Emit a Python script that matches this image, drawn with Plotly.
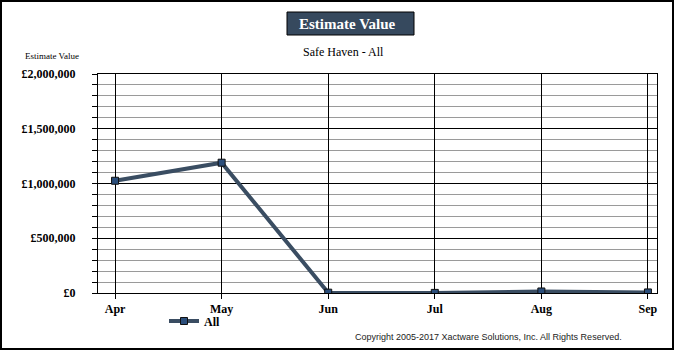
import plotly.graph_objects as go

months = ["Apr", "May", "Jun", "Jul", "Aug", "Sep"]
values = [1025000, 1190000, 3000, 1000, 14000, 5000]
y_ticks = [0, 500000, 1000000, 1500000, 2000000]
y_tick_text = ["£0", "£500,000", "£1,000,000", "£1,500,000", "£2,000,000"]

SERIF = "Liberation Serif, Times New Roman, serif"
SANS = "Liberation Sans, Arial, sans-serif"
LINE_COLOR = "#3a4d62"

fig = go.Figure()
fig.add_trace(go.Scatter(
    x=list(range(len(months))), y=values, name="All",
    mode="lines+markers",
    line=dict(color=LINE_COLOR, width=4),
    marker=dict(symbol="square", size=7, color="#2b4e7b",
                line=dict(color="#111111", width=1)),
))

fig.update_layout(
    width=674, height=350,
    margin=dict(l=98, r=17, t=74, b=57),
    paper_bgcolor="white", plot_bgcolor="white",
    showlegend=True,
    legend=dict(orientation="h", x=164, xref="paper", y=0, yanchor="middle",
                font=dict(family=SERIF, size=12, color="black", weight="bold"),
                itemwidth=30, bgcolor="rgba(0,0,0,0)"),
    xaxis=dict(
        range=[-0.16, 5.085], tickmode="array",
        tickvals=list(range(len(months))), ticktext=months,
        showgrid=True, gridcolor="black", gridwidth=1,
        ticks="outside", ticklen=5, tickcolor="black",
        showline=True, linecolor="black", linewidth=1, mirror=True,
        zeroline=False,
        tickfont=dict(family=SERIF, size=12, color="black", weight="bold"),
    ),
    yaxis=dict(
        range=[0, 2000000], tickmode="array",
        tickvals=y_ticks, ticktext=y_tick_text,
        showgrid=True, gridcolor="black", gridwidth=1,
        ticks="outside", ticklen=5, tickcolor="black",
        showline=True, linecolor="black", linewidth=1, mirror=True,
        zeroline=False, ticklabelstandoff=14,
        tickfont=dict(family=SERIF, size=12, color="black", weight="bold"),
        minor=dict(dtick=100000, showgrid=True, gridcolor="#9a9a9a",
                   gridwidth=1, ticks="outside", ticklen=5,
                   tickcolor="black"),
    ),
)

# Legend position in pixels -> paper fraction
fig.update_layout(legend=dict(x=(164 - 98) / 559, y=-(321 - 293) / 219))

# Title box
fig.add_shape(type="rect", xref="paper", yref="paper",
              x0=(287 - 98) / 559, x1=(414 - 98) / 559,
              y0=(293 - 35) / 219, y1=(293 - 12) / 219,
              fillcolor="#36495e", line=dict(color="black", width=1))
fig.add_annotation(text="Estimate Value", xref="paper", yref="paper",
                   x=(297 - 98) / 559, y=(293 - 23.5) / 219,
                   xanchor="left", yanchor="middle", showarrow=False,
                   font=dict(family=SERIF, size=15, color="white", weight="bold"))

# Subtitle
fig.add_annotation(text="Safe Haven - All", xref="paper", yref="paper",
                   x=(343 - 98) / 559, y=(293 - 52) / 219,
                   xanchor="center", yanchor="middle", showarrow=False,
                   font=dict(family=SERIF, size=12, color="black"))

# Axis caption
fig.add_annotation(text="Estimate Value", xref="paper", yref="paper",
                   x=(52 - 98) / 559, y=(293 - 56) / 219,
                   xanchor="center", yanchor="middle", showarrow=False,
                   font=dict(family=SERIF, size=9, color="black"))

# Copyright
fig.add_annotation(text="Copyright 2005-2017 Xactware Solutions, Inc. All Rights Reserved.",
                   xref="paper", yref="paper",
                   x=(624 - 98) / 559, y=-(337 - 293) / 219,
                   xanchor="right", yanchor="middle", showarrow=False,
                   font=dict(family=SANS, size=9, color="#222222"))

# Outer frame
fig.add_shape(type="rect", xref="paper", yref="paper",
              x0=-97 / 559, x1=(673 - 98) / 559,
              y0=-(349 - 293) / 219, y1=292 / 219,
              line=dict(color="black", width=2), fillcolor="rgba(0,0,0,0)")

fig.write_html("out.html")
